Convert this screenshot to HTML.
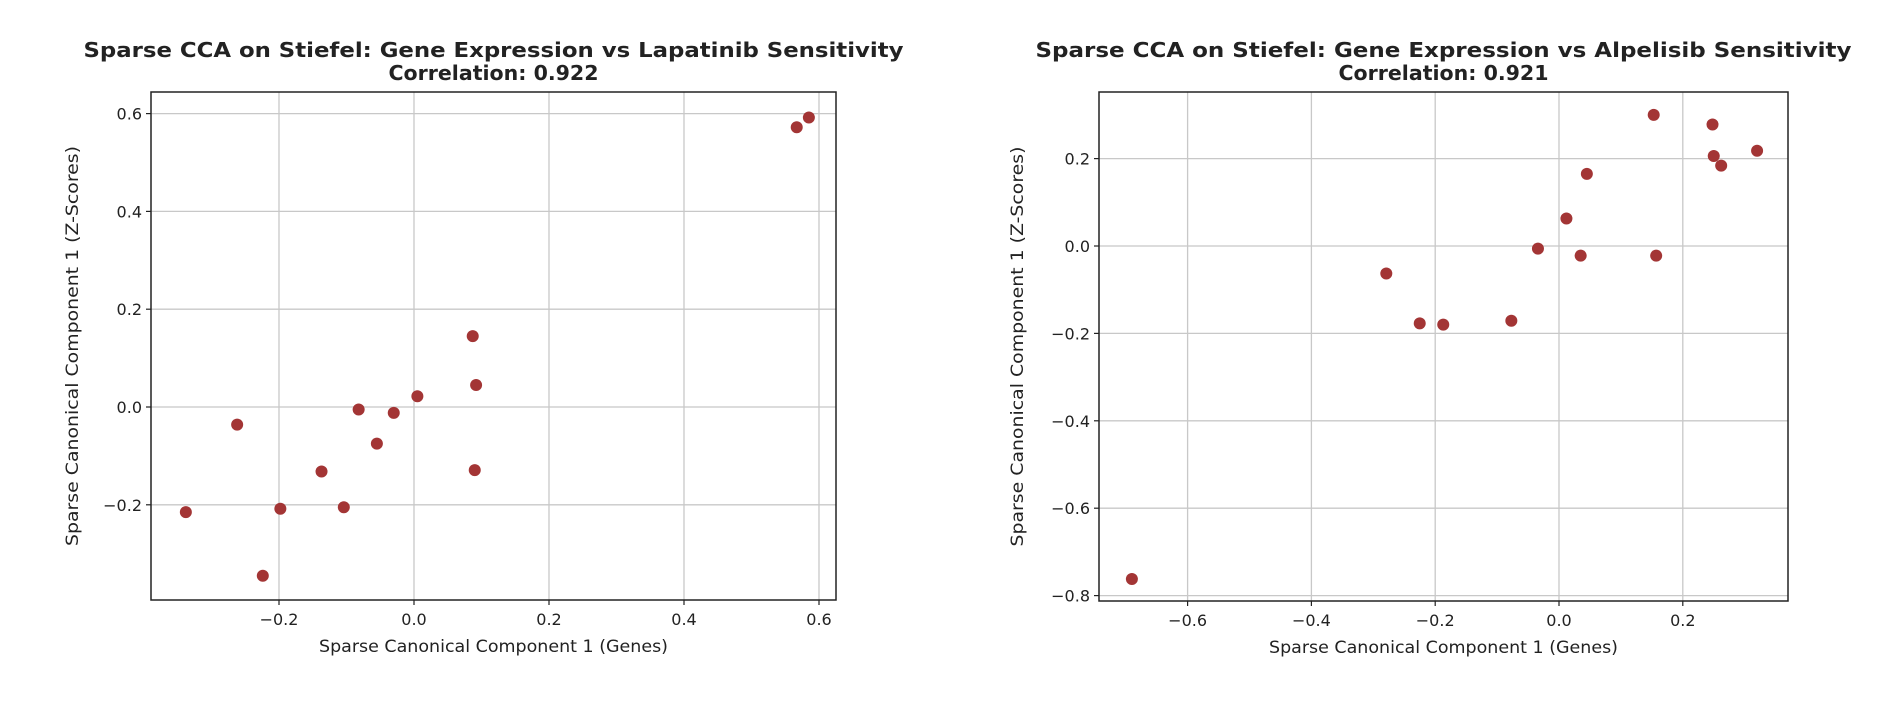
<!DOCTYPE html>
<html><head><meta charset="utf-8"><style>
body{margin:0;background:#fff;overflow:hidden;}
svg text{font-family:"DejaVu Sans","Liberation Sans",sans-serif;fill:#222;}
</style></head><body>
<svg id="c" width="1888" height="703" xmlns="http://www.w3.org/2000/svg"></svg>
<script>
const lapX=[0.585,0.567,0.087,0.092,0.005,-0.082,-0.030,-0.262,-0.055,-0.137,0.090,-0.104,-0.198,-0.338,-0.224];
const lapY=[0.592,0.572,0.145,0.045,0.022,-0.005,-0.012,-0.036,-0.075,-0.132,-0.129,-0.205,-0.208,-0.215,-0.345];
const alpX=[0.153,0.248,0.250,0.262,0.320,0.045,0.012,-0.034,0.035,0.157,-0.279,-0.225,-0.187,-0.077,-0.690];
const alpY=[0.300,0.278,0.206,0.184,0.218,0.165,0.063,-0.006,-0.022,-0.022,-0.063,-0.177,-0.180,-0.171,-0.762];
const lapXTicks=[-0.2,0.0,0.2,0.4,0.6];
const lapYTicks=[-0.2,0.0,0.2,0.4,0.6];
const alpXTicks=[-0.6,-0.4,-0.2,0.0,0.2];
const alpYTicks=[-0.8,-0.6,-0.4,-0.2,0.0,0.2];
const svg=document.getElementById('c');
const NS='http://www.w3.org/2000/svg';
function mk(t,a,p){const e=document.createElementNS(NS,t);for(const k in a)e.setAttribute(k,a[k]);(p||svg).appendChild(e);return e;}
function fmt(v){return (v<0?'\u2212':'')+Math.abs(v).toFixed(1);}
function panel(cfg){
  const g=mk('g',{});
  
  
  const sx=v=>cfg.x0+v*cfg.kx, sy=v=>cfg.y0-v*cfg.ky;
  cfg.xt.forEach(v=>{
    const l=mk('line',{x1:sx(v),x2:sx(v),y1:cfg.T,y2:cfg.B,stroke:'#c8c8c8','stroke-width':1.3},g);
    
    mk('line',{x1:sx(v),x2:sx(v),y1:cfg.B,y2:cfg.B+5,stroke:'#222','stroke-width':1.2},g);
    const t=mk('text',{x:sx(v),y:cfg.B+25,'text-anchor':'middle','font-size':16},g);t.textContent=fmt(v);
    
  });
  cfg.yt.forEach(v=>{
    const l=mk('line',{x1:cfg.L,x2:cfg.R,y1:sy(v),y2:sy(v),stroke:'#c8c8c8','stroke-width':1.3},g);
    
    mk('line',{x1:cfg.L-5,x2:cfg.L,y1:sy(v),y2:sy(v),stroke:'#222','stroke-width':1.2},g);
    const t=mk('text',{x:cfg.L-9,y:sy(v)+6,'text-anchor':'end','font-size':16},g);t.textContent=fmt(v);
    
  });
  const fr=mk('rect',{x:cfg.L,y:cfg.T,width:cfg.R-cfg.L,height:cfg.B-cfg.T,fill:'none',stroke:'#222','stroke-width':1.5},g);
  
  cfg.xs.forEach((v,i)=>{
    const c=mk('circle',{cx:sx(v),cy:sy(cfg.ys[i]),r:6,fill:'#a33535'},g);
    
  });
  const cx=(cfg.L+cfg.R)/2;
  const t1=mk('text',{x:cx,y:57,'text-anchor':'middle','font-size':20,'font-weight':'bold',textLength:cfg.tw,lengthAdjust:'spacingAndGlyphs'},g);t1.textContent=cfg.title;
  
  const t2=mk('text',{x:cx,y:80,'text-anchor':'middle','font-size':20,'font-weight':'bold',textLength:cfg.sw,lengthAdjust:'spacingAndGlyphs'},g);t2.textContent=cfg.sub;
  
  const xl=mk('text',{x:cx,y:cfg.B+52,'text-anchor':'middle','font-size':17,textLength:349,lengthAdjust:'spacingAndGlyphs'},g);xl.textContent='Sparse Canonical Component 1 (Genes)';
  
  const yx=cfg.yx, yy=(cfg.T+cfg.B)/2;
  const yl=mk('text',{x:yx,y:yy,'text-anchor':'middle','font-size':17,textLength:400,lengthAdjust:'spacingAndGlyphs',transform:`rotate(-90 ${yx} ${yy})`},g);yl.textContent='Sparse Canonical Component 1 (Z-Scores)';
  
}
panel({name:'lapatinib-panel',L:151,R:836,T:92,B:600,x0:414,kx:675,y0:407,ky:489,xt:lapXTicks,yt:lapYTicks,xs:lapX,ys:lapY,yx:78,tw:820,sw:210,
  title:'Sparse CCA on Stiefel: Gene Expression vs Lapatinib Sensitivity',sub:'Correlation: 0.922'});
panel({name:'alpelisib-panel',L:1099,R:1788,T:92,B:601,x0:1559,kx:619,y0:246,ky:437,xt:alpXTicks,yt:alpYTicks,xs:alpX,ys:alpY,yx:1023,tw:816,sw:210,
  title:'Sparse CCA on Stiefel: Gene Expression vs Alpelisib Sensitivity',sub:'Correlation: 0.921'});
</script>
</body></html>
